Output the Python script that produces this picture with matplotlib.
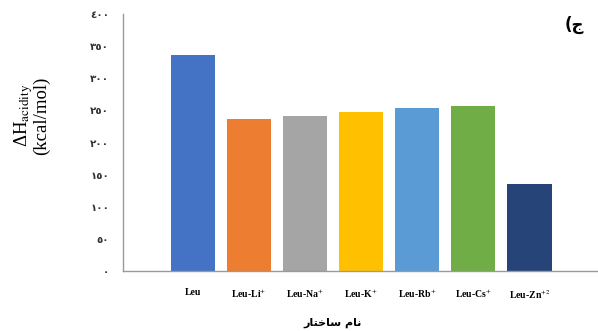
import matplotlib.pyplot as plt

plt.rcParams['mathtext.fontset'] = 'stix'

# ساختارها و آنتالپی اسیدی (kcal/mol)
labels = ['Leu', r'Leu-Li$^{+}$', r'Leu-Na$^{+}$', r'Leu-K$^{+}$',
          r'Leu-Rb$^{+}$', r'Leu-Cs$^{+}$', r'Leu-Zn$^{+2}$']
values = [337, 237, 242, 247, 254, 257, 135]
colors = ['#4472C4', '#ED7D31', '#A5A5A5', '#FFC000', '#5B9BD5', '#70AD47', '#264478']
yticks = [0, 50, 100, 150, 200, 250, 300, 350, 400]

# ارقام عربی-هندی برای برچسب محور
digits = str.maketrans('0123456789', '٠١٢٣٤٥٦٧٨٩')
ytick_labels = [str(v).translate(digits) for v in yticks]

fig = plt.figure(figsize=(5.98, 3.31), dpi=100)
ax = fig.add_axes([0.2057, 0.1813, 0.792, 0.776])

ax.bar(range(len(values)), values, width=0.79, color=colors)

ax.set_xlim(-1.25, 7.2)
ax.set_ylim(0, 400)
ax.set_yticks(yticks)
ax.set_yticklabels(ytick_labels, fontsize=7.5, fontweight='bold', color='#333333')
ax.set_xticks(range(len(values)))
ax.set_xticklabels(labels, fontsize=7, fontweight='bold', family='Liberation Serif')
ax.tick_params(axis='both', length=0)
ax.tick_params(axis='y', pad=10)
ax.tick_params(axis='x', pad=12)

for s in ['top', 'right']:
    ax.spines[s].set_visible(False)
for s in ['left', 'bottom']:
    ax.spines[s].set_color('#9a9a9a')
    ax.spines[s].set_linewidth(1.0)

# نام ساختار (حروف شکل‌دار، ترتیب نمایشی)
ax.set_xlabel('\ufead\ufe8e\ufe98\ufea7\ufe8e\ufeb3 \ufee1\ufe8e\ufee7',
              fontsize=8, fontweight='bold', family='DejaVu Sans')
ax.xaxis.set_label_coords(0.443, -0.18)

fig.text(0.052, 0.65, 'ΔH$_{\\mathrm{acidity}}$\n(kcal/mol)', rotation=90,
         ha='center', va='center', multialignment='center', linespacing=0.82,
         fontsize=13.5, family='Liberation Serif')

fig.text(0.96, 0.925, '(\ufe9d', fontsize=12, fontweight='bold',
         family='DejaVu Sans', ha='center', va='center')

fig.savefig('out.png', dpi=100)
